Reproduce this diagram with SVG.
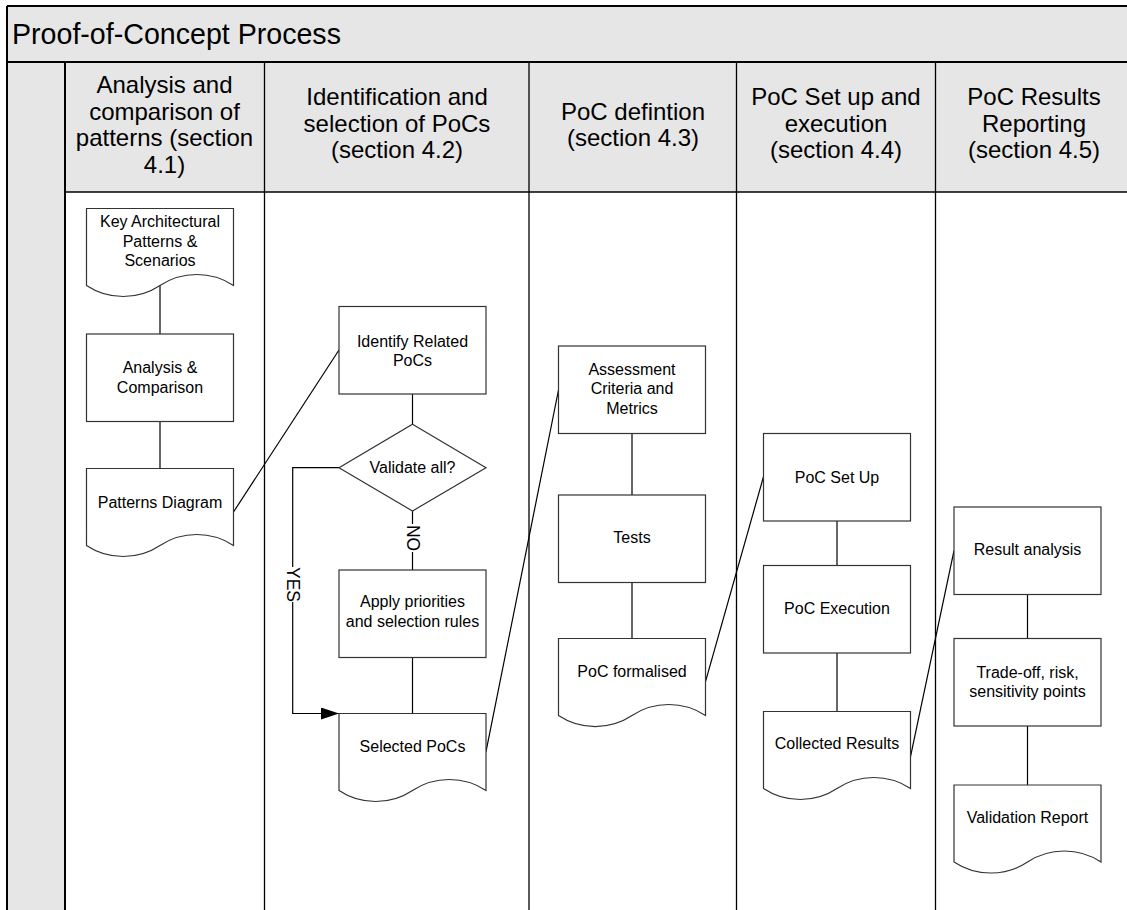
<svg xmlns="http://www.w3.org/2000/svg" xmlns:xlink="http://www.w3.org/1999/xlink" width="1127" height="910" viewBox="0 0 1127 910">
<style>
.band{fill:#e6e6e6;stroke:none}
.frame{stroke:#000;stroke-width:2;fill:none}
.lane{stroke:#000;stroke-width:1.3;fill:none}
.title{font-family:"Liberation Sans",Arial,sans-serif;font-size:28.6px;fill:#000}
.hdr{font-family:"Liberation Sans",Arial,sans-serif;font-size:24px;fill:#000;text-anchor:middle}
.box{fill:#fff;stroke:#333;stroke-width:1.2}
.t{font-family:"Liberation Sans",Arial,sans-serif;font-size:16px;fill:#000;text-anchor:middle}
.lbl{font-family:"Liberation Sans",Arial,sans-serif;font-size:17.5px;fill:#000;text-anchor:middle}
.c{stroke:#000;stroke-width:1.2;fill:none}
</style>
<defs>
<path id="doc" d="M0,0 H147 V77 C125,62.3 95.5,62.3 73.5,77 C51.5,91.7 22,91.7 0,77 Z"/>
<marker id="arr" viewBox="0 0 18 12" refX="18" refY="6" markerWidth="18" markerHeight="12" markerUnits="userSpaceOnUse" orient="auto">
<path d="M0,0 L18,6 L0,12 Z" fill="#000"/>
</marker>
</defs>
<rect x="0" y="0" width="1127" height="910" fill="#fff"/>
<g id="pool">
<rect class="band" x="7" y="6" width="1125" height="186"/>
<rect class="band" x="7" y="192" width="58" height="720"/>
<line class="frame" x1="7" y1="6" x2="1127" y2="6"/>
<line class="frame" x1="7" y1="6" x2="7" y2="910"/>
<line class="frame" x1="7" y1="62" x2="1127" y2="62"/>
<line class="lane" x1="65" y1="192" x2="1127" y2="192"/>
<line class="frame" x1="65" y1="62" x2="65" y2="910"/>
<line class="lane" x1="264.5" y1="62" x2="264.5" y2="910"/>
<line class="lane" x1="529" y1="62" x2="529" y2="910"/>
<line class="lane" x1="736.5" y1="62" x2="736.5" y2="910"/>
<line class="lane" x1="935.5" y1="62" x2="935.5" y2="910"/>
<text class="title" x="12" y="44">Proof-of-Concept Process</text>
<text class="hdr" x="164.5" y="93">Analysis and<tspan x="164.5" y="119.5">comparison of</tspan><tspan x="164.5" y="146">patterns (section</tspan><tspan x="164.5" y="172.5">4.1)</tspan></text>
<text class="hdr" x="397" y="105">Identification and<tspan x="397" y="131.5">selection of PoCs</tspan><tspan x="397" y="158">(section 4.2)</tspan></text>
<text class="hdr" x="633" y="119.5">PoC defintion<tspan x="633" y="146">(section 4.3)</tspan></text>
<text class="hdr" x="836" y="105">PoC Set up and<tspan x="836" y="131.5">execution</tspan><tspan x="836" y="158">(section 4.4)</tspan></text>
<text class="hdr" x="1034" y="105">PoC Results<tspan x="1034" y="131.5">Reporting</tspan><tspan x="1034" y="158">(section 4.5)</tspan></text>
</g>
<g id="connectors">
<line class="c" x1="160" y1="285.5" x2="160" y2="334"/>
<line class="c" x1="160" y1="421.5" x2="160" y2="468.5"/>
<line class="c" x1="233.5" y1="512" x2="339" y2="350"/>
<line class="c" x1="412.5" y1="394" x2="412.5" y2="424.3"/>
<line class="c" x1="412.5" y1="511" x2="412.5" y2="524"/>
<line class="c" x1="412.5" y1="552" x2="412.5" y2="570"/>
<text class="lbl" transform="translate(412.5,538) rotate(90)" y="6">NO</text>
<polyline class="c" points="339,467.7 292.7,467.7 292.7,567"/>
<polyline class="c" points="292.7,602 292.7,713.5 339,713.5" marker-end="url(#arr)"/>
<text class="lbl" transform="translate(292.7,584.5) rotate(90)" y="6">YES</text>
<line class="c" x1="412.5" y1="657.5" x2="412.5" y2="713.5"/>
<line class="c" x1="486" y1="751.7" x2="558.5" y2="390"/>
<line class="c" x1="632" y1="433.5" x2="632" y2="495"/>
<line class="c" x1="632" y1="582.5" x2="632" y2="638.5"/>
<line class="c" x1="705.5" y1="681.7" x2="763.5" y2="476.7"/>
<line class="c" x1="837" y1="521" x2="837" y2="565.5"/>
<line class="c" x1="837" y1="653" x2="837" y2="711.5"/>
<line class="c" x1="910.5" y1="756.7" x2="954" y2="550.7"/>
<line class="c" x1="1027.5" y1="594.5" x2="1027.5" y2="638.5"/>
<line class="c" x1="1027.5" y1="726" x2="1027.5" y2="785"/>
</g>
<g id="n-key-patterns">
<use xlink:href="#doc" class="box" x="86.5" y="208.5"/>
<text class="t" x="160" y="227.3">Key Architectural<tspan x="160" y="246.7">Patterns &amp;</tspan><tspan x="160" y="266">Scenarios</tspan></text>
</g>
<g id="n-analysis">
<rect class="box" x="86.5" y="334" width="147" height="87.5"/>
<text class="t" x="160" y="373.3">Analysis &amp;<tspan x="160" y="392.7">Comparison</tspan></text>
</g>
<g id="n-patterns-diagram">
<use xlink:href="#doc" class="box" x="86.5" y="468.5"/>
<text class="t" x="160" y="508.3">Patterns Diagram</text>
</g>
<g id="n-identify">
<rect class="box" x="339" y="306.5" width="147" height="87.5"/>
<text class="t" x="412.5" y="346.7">Identify Related<tspan x="412.5" y="366">PoCs</tspan></text>
</g>
<g id="n-validate">
<polygon class="box" points="412.5,424.3 486,467.7 412.5,511 339,467.7"/>
<text class="t" x="412.5" y="473">Validate all?</text>
</g>
<g id="n-apply">
<rect class="box" x="339" y="570" width="147" height="87.5"/>
<text class="t" x="412.5" y="607.3">Apply priorities<tspan x="412.5" y="626.7">and selection rules</tspan></text>
</g>
<g id="n-selected">
<use xlink:href="#doc" class="box" x="339" y="713.5"/>
<text class="t" x="412.5" y="751.7">Selected PoCs</text>
</g>
<g id="n-assessment">
<rect class="box" x="558.5" y="346" width="147" height="87.5"/>
<text class="t" x="632" y="375">Assessment<tspan x="632" y="394.3">Criteria and</tspan><tspan x="632" y="414">Metrics</tspan></text>
</g>
<g id="n-tests">
<rect class="box" x="558.5" y="495" width="147" height="87.5"/>
<text class="t" x="632" y="543.3">Tests</text>
</g>
<g id="n-formalised">
<use xlink:href="#doc" class="box" x="558.5" y="638.5"/>
<text class="t" x="632" y="676.7">PoC formalised</text>
</g>
<g id="n-setup">
<rect class="box" x="763.5" y="433.5" width="147" height="87.5"/>
<text class="t" x="837" y="482.7">PoC Set Up</text>
</g>
<g id="n-execution">
<rect class="box" x="763.5" y="565.5" width="147" height="87.5"/>
<text class="t" x="837" y="614">PoC Execution</text>
</g>
<g id="n-collected">
<use xlink:href="#doc" class="box" x="763.5" y="711.5"/>
<text class="t" x="837" y="749.3">Collected Results</text>
</g>
<g id="n-result-analysis">
<rect class="box" x="954" y="507" width="147" height="87.5"/>
<text class="t" x="1027.5" y="555">Result analysis</text>
</g>
<g id="n-tradeoff">
<rect class="box" x="954" y="638.5" width="147" height="87.5"/>
<text class="t" x="1027.5" y="678.3">Trade-off, risk,<tspan x="1027.5" y="697.3">sensitivity points</tspan></text>
</g>
<g id="n-validation-report">
<use xlink:href="#doc" class="box" x="954" y="785"/>
<text class="t" x="1027.5" y="823.3">Validation Report</text>
</g>
</svg>
